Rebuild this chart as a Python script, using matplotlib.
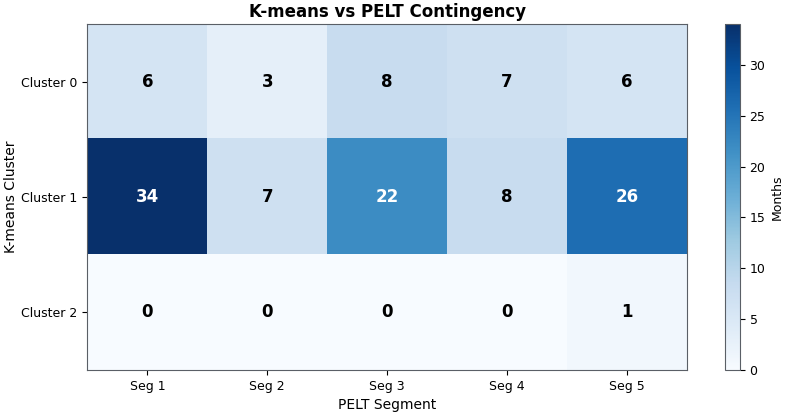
import numpy as np
import matplotlib
matplotlib.use('Agg')
from matplotlib import pyplot as plt

segments = ['Seg 1', 'Seg 2', 'Seg 3', 'Seg 4', 'Seg 5']
clusters = ['Cluster 0', 'Cluster 1', 'Cluster 2']
counts = [
    [6, 3, 8, 7, 6],
    [34, 7, 22, 8, 26],
    [0, 0, 0, 0, 1],
]

data = np.array(counts)

fig = plt.figure(figsize=(7.87, 4.15), dpi=100)
ax = fig.add_axes([0.111, 0.108, 0.762, 0.834])
cax = fig.add_axes([0.921, 0.108, 0.019, 0.834])

im = ax.imshow(data, cmap='Blues', aspect='auto', vmin=0, vmax=data.max())
cb = fig.colorbar(im, cax=cax)
cb.set_label('Months', fontsize=9)
cb.ax.tick_params(labelsize=9)
cb.outline.set_edgecolor('#5a5f66')

for sp in ax.spines.values():
    sp.set_edgecolor('#5a5f66')

ax.set_xticks(range(len(segments)))
ax.set_xticklabels(segments, fontsize=9)
ax.set_yticks(range(len(clusters)))
ax.set_yticklabels(clusters, fontsize=9)
ax.set_xlabel('PELT Segment', fontsize=10)
ax.set_ylabel('K-means Cluster', fontsize=10, labelpad=2)
ax.set_title('K-means vs PELT Contingency', fontsize=12, fontweight='bold', pad=5)

for i in range(data.shape[0]):
    for j in range(data.shape[1]):
        v = data[i, j]
        ax.text(j, i, str(v), ha='center', va='center', fontsize=12, fontweight='bold',
                color='white' if v > data.max() / 2 else 'black')

fig.savefig('out.png', dpi=100)
